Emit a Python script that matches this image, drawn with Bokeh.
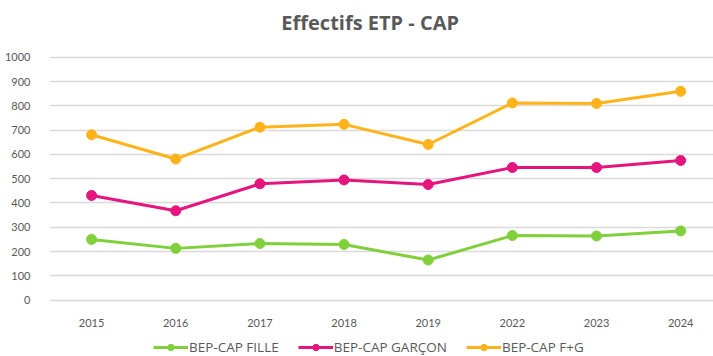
from bokeh.plotting import figure
from bokeh.layouts import column
from bokeh.models import (ColumnDataSource, Legend, LegendItem, FixedTicker,
                          Label)
from bokeh.embed import file_html
from bokeh.resources import INLINE

# Effectifs ETP - CAP par année
years = ["2015", "2016", "2017", "2018", "2019", "2022", "2023", "2024"]
fille = [250, 213, 233, 229, 165, 266, 264, 285]
garcon = [431, 368, 479, 495, 476, 546, 546, 575]
total = [681, 581, 712, 724, 641, 812, 810, 860]
y_ticks = [0, 100, 200, 300, 400, 500, 600, 700, 800, 900, 1000]

series = [
    ("BEP-CAP FILLE", fille, "#7fd03b"),
    ("BEP-CAP GARÇON", garcon, "#e6157e"),
    ("BEP-CAP F+G", total, "#ffb31a"),
]

xs = list(range(len(years)))
sources = [ColumnDataSource(dict(x=xs, y=vals)) for _, vals, _ in series]


def strip(height, **kw):
    """A bare figure used for the heading and the legend rows."""
    f = figure(width=713, height=height, output_backend="svg",
               toolbar_location=None, x_axis_type=None, y_axis_type=None,
               min_border=0, outline_line_color=None, **kw)
    f.xgrid.grid_line_color = None
    f.ygrid.grid_line_color = None
    return f


# Heading
head = strip(40, x_range=(0, 1), y_range=(0, 1))
head.add_layout(Label(x=0.483, y=0.45, text="Effectifs ETP - CAP",
                      text_align="center", text_baseline="middle",
                      text_font="Open Sans", text_font_size="20px",
                      text_font_style="bold", text_color="#595959"))

# Main chart
p = figure(width=713, height=296, output_backend="svg", toolbar_location=None,
           x_range=(-0.5, 7.39), y_range=(-10, 1020),
           min_border_left=49, min_border_right=0, min_border_top=12,
           min_border_bottom=34, outline_line_color=None)

for (name, vals, color), src in zip(series, sources):
    p.line("x", "y", source=src, line_color=color, line_width=3)
    p.scatter("x", "y", source=src, size=10, fill_color=color,
              line_color=color)

p.xaxis.ticker = FixedTicker(ticks=xs)
p.xaxis.major_label_overrides = {i: y for i, y in enumerate(years)}
p.yaxis.ticker = FixedTicker(ticks=y_ticks)
for ax in (p.xaxis, p.yaxis):
    ax.axis_line_color = None
    ax.major_tick_line_color = None
    ax.minor_tick_line_color = None
    ax.major_label_text_font = "Lato"
    ax.major_label_text_font_size = "11px"
    ax.major_label_text_color = "#595959"
p.yaxis.major_label_standoff = 13
p.xaxis.major_label_standoff = 10

p.xgrid.grid_line_color = None
p.ygrid.ticker = FixedTicker(ticks=y_ticks)
p.ygrid.grid_line_color = "#d9d9d9"
p.ygrid.grid_line_width = 1.5

# Legend row; its renderers share the series sources but the strip's
# ranges keep them out of view.
lg = strip(20, x_range=(-100, -99), y_range=(-100, -99))
items = []
for (name, vals, color), src in zip(series, sources):
    ln = lg.line("x", "y", source=src, line_color=color, line_width=3)
    pt = lg.scatter("x", "y", source=src, size=10, fill_color=color,
                    line_color=color)
    items.append(LegendItem(label=name, renderers=[ln, pt]))
legend = Legend(items=items, orientation="horizontal", location=(104, 0),
                label_text_font="Open Sans", label_text_font_size="13.5px",
                label_text_color="#595959", glyph_width=35, glyph_height=16,
                label_height=16, spacing=19, label_standoff=1, padding=0,
                margin=0, border_line_color=None, background_fill_alpha=0)
lg.add_layout(legend, "center")

open("out.html", "w").write(
    file_html(column(head, p, lg, spacing=0), INLINE))
